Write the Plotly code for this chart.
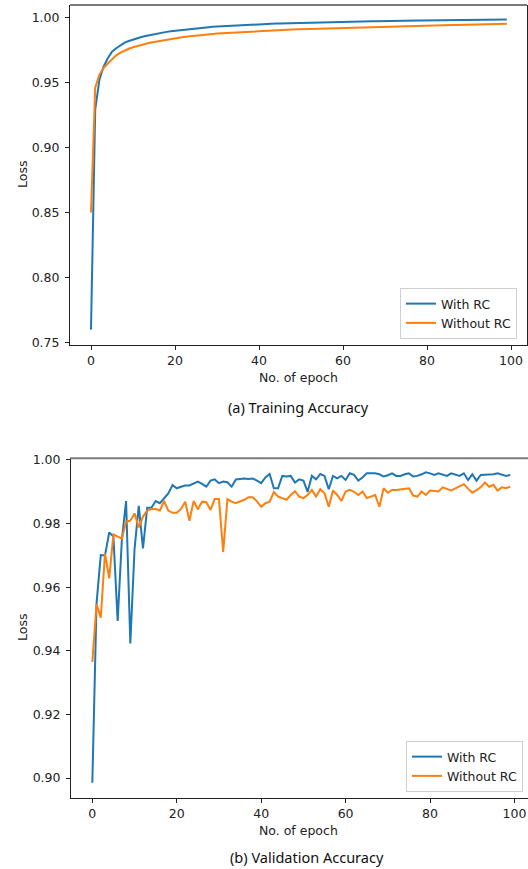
import plotly.graph_objects as go

# ---------------- data ----------------
epochs = list(range(100))

train_with_rc = [
    0.760, 0.929, 0.952, 0.962, 0.9685, 0.9736, 0.9762, 0.9785, 0.9805, 0.9818,
    0.9830, 0.9840, 0.9849, 0.9857, 0.9864, 0.9871, 0.9877, 0.9883, 0.9888, 0.9893,
    0.9897, 0.9901, 0.9905, 0.9909, 0.9912, 0.9915, 0.9918, 0.9921, 0.9924, 0.9927,
    0.9929, 0.9931, 0.9933, 0.9935, 0.9937, 0.9939, 0.9941, 0.9943, 0.9944, 0.9946,
    0.9947, 0.9949, 0.9950, 0.9951, 0.9952, 0.9953, 0.9954, 0.9955, 0.9956, 0.9957,
    0.9958, 0.9959, 0.9960, 0.9961, 0.9961, 0.9962, 0.9963, 0.9964, 0.9964, 0.9965,
    0.9966, 0.9966, 0.9967, 0.9968, 0.9968, 0.9969, 0.9969, 0.9970, 0.9970, 0.9971,
    0.9971, 0.9972, 0.9972, 0.9973, 0.9973, 0.9974, 0.9974, 0.9975, 0.9975, 0.9975,
    0.9976, 0.9976, 0.9977, 0.9977, 0.9977, 0.9978, 0.9978, 0.9978, 0.9979, 0.9979,
    0.9979, 0.9980, 0.9980, 0.9980, 0.9981, 0.9981, 0.9981, 0.9982, 0.9982, 0.9983,
]

train_without_rc = [
    0.850, 0.946, 0.956, 0.961, 0.9645, 0.9680, 0.9708, 0.9728, 0.9745, 0.9758,
    0.9770, 0.9780, 0.9789, 0.9797, 0.9804, 0.9811, 0.9817, 0.9823, 0.9829, 0.9834,
    0.9840, 0.9845, 0.9849, 0.9853, 0.9857, 0.9860, 0.9863, 0.9866, 0.9869, 0.9872,
    0.9875, 0.9877, 0.9879, 0.9881, 0.9883, 0.9885, 0.9887, 0.9889, 0.9891, 0.9893,
    0.9895, 0.9896, 0.9898, 0.9900, 0.9901, 0.9903, 0.9904, 0.9905, 0.9907, 0.9908,
    0.9909, 0.9910, 0.9912, 0.9913, 0.9914, 0.9915, 0.9916, 0.9917, 0.9918, 0.9919,
    0.9920, 0.9921, 0.9922, 0.9923, 0.9924, 0.9925, 0.9926, 0.9927, 0.9928, 0.9929,
    0.9929, 0.9930, 0.9931, 0.9932, 0.9932, 0.9933, 0.9934, 0.9935, 0.9935, 0.9936,
    0.9937, 0.9937, 0.9938, 0.9939, 0.9939, 0.9940, 0.9941, 0.9941, 0.9942, 0.9943,
    0.9943, 0.9944, 0.9945, 0.9945, 0.9946, 0.9947, 0.9947, 0.9948, 0.9949, 0.9950,
]

val_with_rc = [
    0.8985, 0.9549, 0.9701, 0.9700, 0.9772, 0.9759, 0.9494, 0.9750, 0.9871, 0.9423,
    0.9720, 0.9856, 0.9722, 0.9850, 0.9850, 0.9871, 0.9864, 0.9880, 0.9895, 0.9921,
    0.9911, 0.9916, 0.9920, 0.9920, 0.9927, 0.9932, 0.9925, 0.9916, 0.9935, 0.9939,
    0.9927, 0.9932, 0.9930, 0.9916, 0.9939, 0.9940, 0.9942, 0.9940, 0.9942, 0.9935,
    0.9927, 0.9945, 0.9956, 0.9911, 0.9911, 0.9950, 0.9948, 0.9950, 0.9929, 0.9939,
    0.9935, 0.9900, 0.9950, 0.9939, 0.9956, 0.9950, 0.9908, 0.9950, 0.9942, 0.9950,
    0.9937, 0.9958, 0.9953, 0.9935, 0.9945, 0.9958, 0.9958, 0.9958, 0.9955, 0.9948,
    0.9952, 0.9958, 0.9950, 0.9950, 0.9955, 0.9958, 0.9948, 0.9950, 0.9955, 0.9961,
    0.9958, 0.9953, 0.9958, 0.9955, 0.9950, 0.9958, 0.9955, 0.9950, 0.9958, 0.9937,
    0.9955, 0.9935, 0.9953, 0.9953, 0.9953, 0.9955, 0.9958, 0.9953, 0.9950, 0.9953,
]

val_without_rc = [
    0.9365, 0.9546, 0.9504, 0.9706, 0.9628, 0.9766, 0.9759, 0.9753, 0.9806, 0.9809,
    0.9832, 0.9788, 0.9822, 0.9841, 0.9846, 0.9846, 0.9841, 0.9871, 0.9841, 0.9834,
    0.9834, 0.9846, 0.9869, 0.9809, 0.9871, 0.9845, 0.9869, 0.9867, 0.9843, 0.9877,
    0.9877, 0.9711, 0.9877, 0.9869, 0.9864, 0.9869, 0.9875, 0.9883, 0.9883, 0.9870,
    0.9853, 0.9864, 0.9869, 0.9899, 0.9885, 0.9880, 0.9875, 0.9890, 0.9902, 0.9885,
    0.9880, 0.9890, 0.9906, 0.9885, 0.9908, 0.9895, 0.9853, 0.9904, 0.9890, 0.9871,
    0.9901, 0.9906, 0.9900, 0.9890, 0.9901, 0.9880, 0.9885, 0.9890, 0.9853, 0.9911,
    0.9897, 0.9906, 0.9906, 0.9908, 0.9908, 0.9911, 0.9888, 0.9885, 0.9901, 0.9890,
    0.9904, 0.9902, 0.9901, 0.9914, 0.9908, 0.9904, 0.9911, 0.9918, 0.9924, 0.9910,
    0.9897, 0.9905, 0.9914, 0.9929, 0.9916, 0.9922, 0.9904, 0.9914, 0.9911, 0.9916,
]

series_names = ["With RC", "Without RC"]
x_ticks = [0, 20, 40, 60, 80, 100]
train_y_ticks = [0.75, 0.80, 0.85, 0.90, 0.95, 1.00]
val_y_ticks = [0.90, 0.92, 0.94, 0.96, 0.98, 1.00]
captions = ["(a) Training Accuracy", "(b) Validation Accuracy"]
x_title = "No. of epoch"
y_title = "Loss"

# ---------------- styling ----------------
W, H = 528, 869
BLUE, ORANGE = "#1f77b4", "#ff7f0e"
FONT = "DejaVu Sans"
FS = 12.5


def fx(p):
    return p / W


def fy(p):
    return 1 - p / H


fig = go.Figure()
fig.add_trace(go.Scatter(x=epochs, y=train_with_rc, mode="lines", name=series_names[0],
                         line=dict(color=BLUE, width=2), xaxis="x", yaxis="y", legend="legend"))
fig.add_trace(go.Scatter(x=epochs, y=train_without_rc, mode="lines", name=series_names[1],
                         line=dict(color=ORANGE, width=2), xaxis="x", yaxis="y", legend="legend"))
fig.add_trace(go.Scatter(x=epochs, y=val_with_rc, mode="lines", name=series_names[0],
                         line=dict(color=BLUE, width=2), xaxis="x2", yaxis="y2", legend="legend2"))
fig.add_trace(go.Scatter(x=epochs, y=val_without_rc, mode="lines", name=series_names[1],
                         line=dict(color=ORANGE, width=2), xaxis="x2", yaxis="y2", legend="legend2"))

axis_common = dict(showgrid=False, zeroline=False, showline=True, linecolor="#222",
                   linewidth=1, ticks="outside", ticklen=4, tickwidth=1, tickcolor="#222",
                   tickfont=dict(family=FONT, size=FS, color="#222"), automargin=False)

legend_common = dict(bgcolor="rgba(255,255,255,0.85)", bordercolor="#d0d0d0", borderwidth=1,
                     font=dict(family=FONT, size=FS, color="#222"), itemwidth=30,
                     tracegroupgap=0)

fig.update_layout(
    width=W, height=H, margin=dict(l=0, r=0, t=0, b=0),
    paper_bgcolor="white", plot_bgcolor="white",
    xaxis=dict(domain=[fx(70), fx(527)], range=[-5.0, 103.8], anchor="y",
               tickvals=x_ticks, mirror=False, **axis_common),
    yaxis=dict(domain=[fy(345), fy(5)], range=[0.7482, 1.00945], anchor="x",
               tickvals=train_y_ticks, tickformat=".2f", mirror=True,
               ticklabelstandoff=3, **axis_common),
    xaxis2=dict(domain=[fx(71), 1.0], range=[-5.05, 103.2], anchor="y2",
                tickvals=x_ticks, mirror=False, **axis_common),
    yaxis2=dict(domain=[fy(798.3), fy(458.3)], range=[0.89362, 1.00053], anchor="x2",
                tickvals=val_y_ticks, tickformat=".2f", mirror=False,
                ticklabelstandoff=3, **axis_common),
    legend=dict(x=fx(517), y=fy(339), xanchor="right", yanchor="bottom", **legend_common),
    legend2=dict(x=fx(523), y=fy(792), xanchor="right", yanchor="bottom", **legend_common),
    showlegend=True,
)

# gray top borders of the two panels
fig.add_shape(type="line", xref="paper", yref="paper", x0=fx(70), x1=fx(527),
              y0=fy(5), y1=fy(5), line=dict(color="#7a7a7a", width=2))
fig.add_shape(type="line", xref="paper", yref="paper", x0=fx(70), x1=1.0,
              y0=fy(458.3), y1=fy(458.3), line=dict(color="#7a7a7a", width=2))

annotations = [
    dict(text=y_title, x=fx(22), y=fy(175), textangle=-90),
    dict(text=y_title, x=fx(22), y=fy(628), textangle=-90),
    dict(text=x_title, x=fx(298), y=fy(377)),
    dict(text=x_title, x=fx(298), y=fy(830)),
]
for a in annotations:
    fig.add_annotation(xref="paper", yref="paper", showarrow=False,
                       xanchor="center", yanchor="middle",
                       font=dict(family=FONT, size=FS, color="#222"), **a)

fig.add_annotation(xref="paper", yref="paper", showarrow=False, text=captions[0],
                   x=fx(226), y=fy(407), xanchor="left", yanchor="middle",
                   font=dict(family="Noto Sans", size=14.5, color="#111"))
fig.add_annotation(xref="paper", yref="paper", showarrow=False, text=captions[1],
                   x=fx(228), y=fy(857), xanchor="left", yanchor="middle",
                   font=dict(family="Noto Sans", size=14.5, color="#111"))

fig.write_html(
    "out.html",
    config={"displayModeBar": False},
    post_script="document.body.style.margin='0';document.body.style.overflow='hidden';"
                "document.documentElement.style.overflow='hidden';",
)
